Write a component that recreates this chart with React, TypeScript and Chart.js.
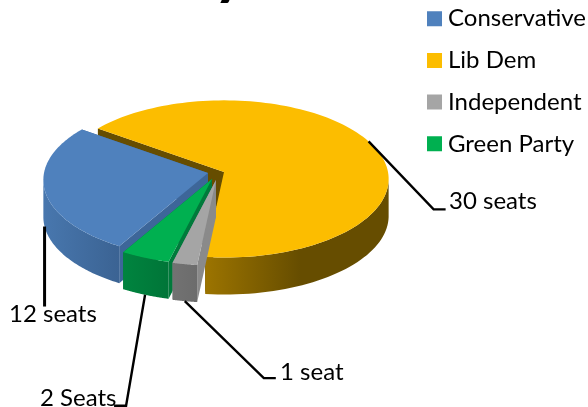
import React, { useEffect, useRef } from "react";
import { Chart, registerables } from "chart.js";

Chart.register(...registerables);

const categories = ["Conservative", "Lib Dem", "Independent", "Green Party"];
const seats = [12, 30, 1, 2];
const seatLabels = ["12 seats", "30 seats", "1 seat", "2 Seats"];
const topColors = ["#4F81BD", "#FCBD00", "#A5A5A5", "#00B050"];
const wallLeft = ["#4877AE", "#9C7400", "#727272", "#00843F"];
const wallRight = ["#3B6393", "#664D00", "#6C6C6C", "#007538"];
const cutColors = ["#3D6699", "#664D00", "#8A8A8A", "#007A3B"];
const apexes = [[208, 173], [224, 172], [216, 180], [212, 179]];
const drawOrder = [1, 0, 3, 2];
const leaderElbows = [[0, 80], [65, 68], [79, 77], [-19, 111]];
const leaderEnds = [[0, 80], [77, 68], [91, 77], [-31, 111]];
const labelPositions = [[9, 322], [449, 209], [280, 380], [40, 406]];
const FONT = "Lato";

const RX = 164, K = 78, B = 0.0886, DEPTH = 37;

const project = (apex: number[], theta: number, r = 1, drop = 0) => {
  const X = r * Math.sin(theta);
  const Y = -r * Math.cos(theta);
  const d = 1 - B * Y;
  return [apex[0] + (X * RX) / d, apex[1] + (Y * K) / d + drop];
};

const pie3d = {
  id: "pie3d",
  beforeDatasetDraw(chart: any) {
    const ctx = chart.ctx;
    const arcs = chart.getDatasetMeta(0).data;
    const poly = (pts: number[][], fill: any) => {
      ctx.beginPath();
      pts.forEach((p, i) => (i ? ctx.lineTo(p[0], p[1]) : ctx.moveTo(p[0], p[1])));
      ctx.closePath();
      ctx.fillStyle = fill;
      ctx.fill();
    };
    ctx.save();
    for (const i of drawOrder) {
      const a = arcs[i];
      const t0 = a.startAngle + Math.PI / 2;
      const t1 = a.endAngle + Math.PI / 2;
      const apex = apexes[i];
      const n = 120;
      const rim: number[][] = [];
      const frontRim: number[][] = [];
      for (let k = 0; k <= n; k++) {
        const t = t0 + ((t1 - t0) * k) / n;
        const p = project(apex, t);
        rim.push(p);
        if (-Math.cos(t) > B) frontRim.push(p);
      }
      const first = rim[0];
      const last = rim[n];
      poly([apex, first, [first[0], first[1] + DEPTH], [apex[0], apex[1] + DEPTH]], cutColors[i]);
      poly([apex, last, [last[0], last[1] + DEPTH], [apex[0], apex[1] + DEPTH]], cutColors[i]);
      const xs = frontRim.map((p) => p[0]);
      const minX = Math.min(...xs);
      const g = ctx.createLinearGradient(minX, 0, i === 1 ? minX + 95 : Math.max(...xs), 0);
      g.addColorStop(0, wallLeft[i]);
      g.addColorStop(1, wallRight[i]);
      poly([...frontRim, ...frontRim.map((p) => [p[0], p[1] + DEPTH]).reverse()], g);
      poly([apex, ...rim], topColors[i]);
    }
    // leader lines and data labels, anchored at each slice's mid angle
    ctx.strokeStyle = "#000";
    ctx.fillStyle = "#000";
    ctx.font = `24px ${FONT}`;
    ctx.textBaseline = "alphabetic";
    arcs.forEach((a: any, i: number) => {
      const mid = (a.startAngle + a.endAngle) / 2 + Math.PI / 2;
      const drop = i === 1 ? 0 : DEPTH;
      const p = project(apexes[i], mid, 1, drop);
      ctx.lineWidth = i === 0 ? 3 : 2.4;
      ctx.beginPath();
      ctx.moveTo(p[0], p[1]);
      ctx.lineTo(p[0] + leaderElbows[i][0], p[1] + leaderElbows[i][1]);
      ctx.lineTo(p[0] + leaderEnds[i][0], p[1] + leaderEnds[i][1]);
      ctx.stroke();
      ctx.fillText(seatLabels[i], labelPositions[i][0], labelPositions[i][1]);
    });
    // the title is cropped by the top of the picture: only this descender shows
    ctx.font = `bold 64px ${FONT}`;
    ctx.fillText("y", 213, -7);
    ctx.restore();
    return false;
  },
};

export default function App() {
  const ref = useRef<HTMLCanvasElement>(null);
  useEffect(() => {
    const chart = new Chart(ref.current!, {
      type: "pie",
      data: {
        labels: categories,
        datasets: [{ data: seats, backgroundColor: topColors, borderWidth: 0 }],
      },
      options: {
        responsive: false,
        animation: false,
        rotation: 210,
        layout: { padding: { top: -11, right: -8 } },
        plugins: {
          tooltip: { enabled: false },
          title: { display: false },
          legend: {
            position: "right",
            align: "start",
            labels: {
              usePointStyle: true,
              pointStyle: "rect",
              boxWidth: 3,
              boxHeight: 15,
              padding: 17.7,
              color: "#000",
              font: { family: FONT, size: 24 },
            },
          },
        },
      },
      plugins: [pie3d],
    } as any);
    return () => chart.destroy();
  }, []);
  return (
    <div style={{ position: "absolute", left: 0, top: 0, width: 588, height: 407, background: "#fff" }}>
      <canvas ref={ref} width={588} height={407} style={{ display: "block" }} />
    </div>
  );
}
